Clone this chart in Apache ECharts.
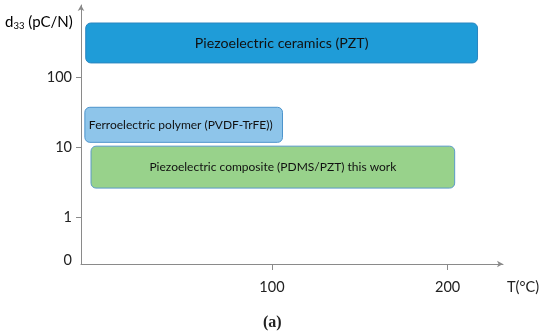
<!DOCTYPE html>
<html><head><meta charset="utf-8">
<script src="https://cdn.jsdelivr.net/npm/echarts@6/dist/echarts.min.js"></script>
<style>html,body{margin:0;padding:0;background:#fff}#c{width:550px;height:336px}</style>
</head><body><div id="c"></div>
<script>
// Bands: temperature range (°C) and d33 range (pC/N)
const bandNames = ['Piezoelectric ceramics (PZT)', 'Ferroelectric polymer (PVDF-TrFE))', 'Piezoelectric composite (PDMS/PZT) this work'];
const tStart = [-6, -6.5, -3];
const tEnd = [217, 106, 204];
const d33Low = [163, 11.8, 2.6];
const d33High = [610, 37.6, 10.4];
const xTicks = [100, 200];
const yTickLabels = [0, 1, 10, 100];

const FONT = 'Lato';
const ZERO_POS = -0.62;
const yPos = v => v === 0 ? ZERO_POS : Math.log10(v);

const fills = ['#1f9cd8', '#8ec5ea', '#98d28b'];
const strokes = ['#2a86c0', '#4d94cc', '#5a9ac8'];
const textAlign = ['center', 'left', 'center'];
const fontSizes = [14.2, 12, 12];

const data = bandNames.map((n, i) => [tStart[i], tEnd[i], d33Low[i], d33High[i], i]);

const chart = echarts.init(document.getElementById('c'));
chart.setOption({
  animation: false,
  grid: {left: 81, right: 47, top: 5, bottom: 72},
  xAxis: {
    type: 'value', min: -8.7, max: 231.5,
    splitLine: {show: false},
    axisLine: {onZero: false, lineStyle: {color: '#8a8a8a', width: 1}, symbol: ['none', 'arrow'], symbolSize: [5, 6]},
    axisTick: {show: true, customValues: xTicks, length: 6, lineStyle: {color: '#8a8a8a'}},
    axisLabel: {customValues: xTicks, margin: 16, fontFamily: FONT, fontSize: 14.5, color: '#222'},
    name: 'T(°C)', nameLocation: 'end', nameGap: 4,
    nameTextStyle: {fontFamily: FONT, fontSize: 14.5, color: '#222', verticalAlign: 'top', padding: [16, 0, 0, 0]}
  },
  yAxis: {
    type: 'value', min: -0.675, max: 3.044,
    splitLine: {show: false},
    axisLine: {onZero: false, lineStyle: {color: '#8a8a8a', width: 1}, symbol: ['none', 'arrow'], symbolSize: [5, 6]},
    axisTick: {show: true, customValues: [0, 1, 2], length: 5, lineStyle: {color: '#8a8a8a'}},
    axisLabel: {
      customValues: yTickLabels.map(yPos), margin: 9, fontFamily: FONT, fontSize: 14.5, color: '#222',
      formatter: v => { const i = yTickLabels.map(yPos).findIndex(p => Math.abs(p - v) < 1e-6); return i >= 0 ? String(yTickLabels[i]) : ''; }
    }
  },
  graphic: [
    {type: 'text', left: 5, top: 15, style: {
      text: '{a|d}{s|33}{a| (pC/N)}',
      rich: {a: {fontFamily: FONT, fontSize: 15, color: '#222'}, s: {fontFamily: FONT, fontSize: 9.5, color: '#222', verticalAlign: 'bottom', padding: [7, 0, 0, 0]}}
    }},
    {type: 'text', left: 263, top: 315, style: {text: '(a)', fontFamily: 'Liberation Serif', fontSize: 16, fontWeight: 'bold', fill: '#222'}}
  ],
  series: [{
    type: 'custom',
    data: data,
    encode: {x: [0, 1], y: [2, 3]},
    renderItem: (params, api) => {
      const i = api.value(4);
      const p1 = api.coord([api.value(0), yPos(api.value(3))]);
      const p2 = api.coord([api.value(1), yPos(api.value(2))]);
      const x = p1[0], y = p1[1], w = p2[0] - p1[0], h = p2[1] - p1[1];
      const tx = textAlign[i] === 'left' ? x + 4 : x + w / 2;
      return {
        type: 'group',
        children: [
          {type: 'rect', shape: {x, y, width: w, height: h, r: 5}, style: {fill: fills[i], stroke: strokes[i], lineWidth: 1}},
          {type: 'text', style: {x: tx, y: y + h / 2, text: bandNames[i], align: textAlign[i], verticalAlign: 'middle', fontFamily: FONT, fontSize: fontSizes[i], fill: '#111'}}
        ]
      };
    }
  }]
});
</script></body></html>
